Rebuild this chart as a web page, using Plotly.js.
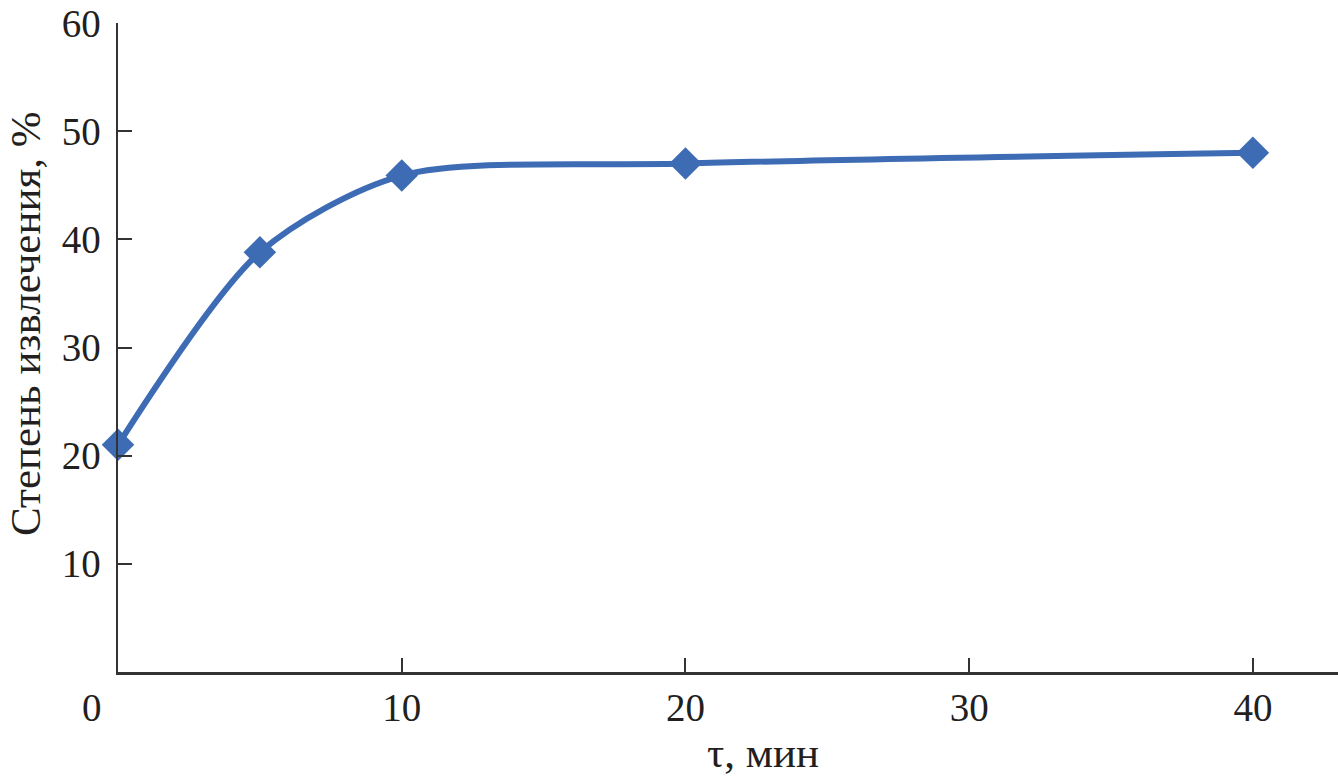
<!DOCTYPE html>
<html>
<head>
<meta charset="utf-8">
<script src="https://cdn.plot.ly/plotly-3.0.1.min.js"></script>
<style>html,body{margin:0;padding:0;background:#fff;}#chart{width:1338px;height:781px;}</style>
</head>
<body>
<div id="chart"></div>
<script>
const timeMin = [0, 5, 10, 20, 40];
const extraction = [21.0, 38.8, 45.9, 47.0, 48.0];
const xTickVals = [10, 20, 30, 40];
const xTickText = ['10', '20', '30', '40'];
const yTickVals = [10, 20, 30, 40, 50, 60];
const xTitle = 'τ, мин';
const yTitle = 'Степень извлечения, %';

const fontFamily = '"Liberation Serif", "DejaVu Serif", serif';
const textColor = '#231f20';
const axisColor = '#333333';
const lineColor = '#3d6cb4';

const trace = {
  x: timeMin,
  y: extraction,
  type: 'scatter',
  mode: 'lines+markers',
  line: {color: lineColor, width: 6, shape: 'spline', smoothing: 0.8},
  marker: {symbol: 'diamond', size: 25, color: lineColor},
  cliponaxis: false,
  hoverinfo: 'skip'
};

const layout = {
  width: 1338,
  height: 781,
  margin: {l: 118, r: 0, t: 23, b: 109},
  paper_bgcolor: '#ffffff',
  plot_bgcolor: '#ffffff',
  showlegend: false,
  font: {family: fontFamily, color: textColor, size: 39},
  xaxis: {
    range: [0, 43],
    tickvals: xTickVals,
    ticktext: xTickText,
    ticks: 'inside',
    ticklen: 14,
    tickwidth: 2,
    tickcolor: axisColor,
    showline: true,
    linecolor: axisColor,
    linewidth: 2.5,
    showgrid: false,
    zeroline: false,
    ticklabelstandoff: 0,
    tickfont: {family: fontFamily, size: 39, color: textColor},
    automargin: false
  },
  yaxis: {
    range: [0, 60],
    tickvals: yTickVals,
    ticks: 'inside',
    ticklen: 14,
    tickwidth: 2,
    tickcolor: axisColor,
    showline: true,
    linecolor: axisColor,
    linewidth: 2.5,
    showgrid: false,
    zeroline: false,
    ticklabelstandoff: 7,
    tickfont: {family: fontFamily, size: 39, color: textColor},
    automargin: false
  },
  annotations: [
    {
      text: '0',
      xref: 'paper', yref: 'paper',
      x: (92 - 118) / 1220, y: 0,
      xanchor: 'center', yanchor: 'top',
      yshift: -12,
      showarrow: false,
      font: {family: fontFamily, size: 39, color: textColor}
    },
    {
      text: xTitle,
      xref: 'paper', yref: 'paper',
      x: (763 - 118) / 1220, y: (672 - 752) / 649,
      xanchor: 'center', yanchor: 'middle',
      showarrow: false,
      font: {family: fontFamily, size: 43, color: textColor}
    },
    {
      text: yTitle,
      xref: 'paper', yref: 'paper',
      x: (25 - 118) / 1220, y: (672 - 324) / 649,
      xanchor: 'center', yanchor: 'middle',
      textangle: -90,
      showarrow: false,
      font: {family: fontFamily, size: 43, color: textColor}
    }
  ]
};

Plotly.newPlot('chart', [trace], layout, {displayModeBar: false, staticPlot: true});
</script>
</body>
</html>
